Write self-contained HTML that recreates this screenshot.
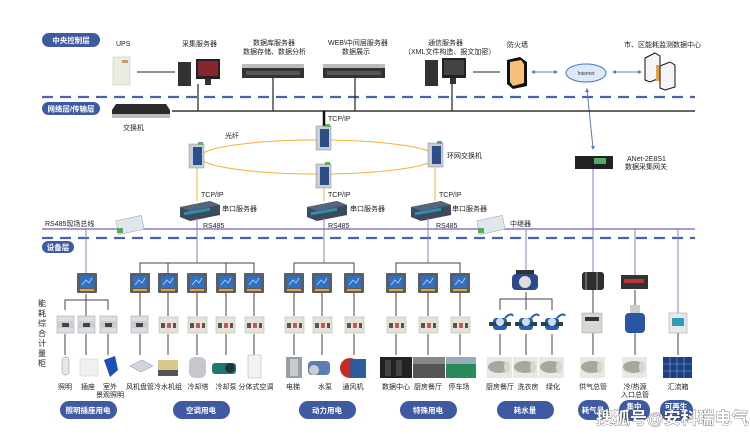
<!DOCTYPE html>
<html><head><meta charset="utf-8"><style>
html,body{margin:0;padding:0;background:#fff;}
svg{display:block;font-family:"Liberation Sans","Noto Sans CJK SC",sans-serif;}
.t{font-size:7px;fill:#222;}
.p{font-size:7.5px;fill:#fff;font-weight:bold;}
</style></head><body>
<svg width="750" height="434" viewBox="0 0 750 434" xmlns="http://www.w3.org/2000/svg">
<defs>
<g id="meter"><rect x="0" y="0" width="20" height="20" fill="#5a5f66" rx="1"/><rect x="3" y="3" width="14" height="12" fill="#2f6fc4"/><path d="M5 12 L9 7 L12 10 L15 5" stroke="#bde" fill="none" stroke-width="0.8"/><rect x="3" y="16" width="14" height="2" fill="#e8a040"/></g>
<g id="brk"><rect x="0" y="0" width="17" height="17" fill="#dcdfe2" stroke="#999" stroke-width="0.5"/><rect x="0" y="5" width="17" height="7" fill="#c9cdd1"/><rect x="5" y="7" width="7" height="4" fill="#444"/></g>
<g id="brk2"><rect x="0" y="0" width="19" height="16" fill="#e6e2da" stroke="#aaa" stroke-width="0.5"/><rect x="2" y="6" width="4" height="5" fill="#555"/><rect x="8" y="6" width="4" height="5" fill="#c55"/><rect x="14" y="6" width="3" height="5" fill="#555"/></g>
<g id="pipe"><rect x="0" y="0" width="25" height="21" fill="#e8e8e6"/><ellipse cx="12" cy="10" rx="11" ry="6" fill="#aaa69c"/><ellipse cx="20" cy="10" rx="3" ry="6" fill="#d8d5cc"/></g>
<g id="wm"><rect x="4" y="6" width="14" height="12" rx="3" fill="#2d5fb0"/><rect x="0" y="10" width="22" height="4" fill="#245"/><circle cx="11" cy="10" r="4" fill="#cde"/><path d="M16 6 Q22 0 24 4" stroke="#2d5fb0" fill="none" stroke-width="2"/></g>
<g id="rsw"><rect x="0" y="0" width="15" height="24" fill="#c7cdd3" stroke="#889" stroke-width="0.5"/><rect x="4" y="3" width="9" height="18" fill="#2a4f8a"/><rect x="9" y="-2" width="5" height="3" fill="#6a6"/></g>
<g id="ser"><path d="M0 6 L30 0 L40 4 L40 14 L10 20 L0 16 Z" fill="#3c4b5c"/><path d="M0 6 L30 0 L40 4 L10 10Z" fill="#56657a"/><rect x="4" y="12" width="26" height="3" fill="#2c8fb0" transform="skewY(-10)"/></g>
</defs>

<!-- pills -->
<g>
<rect x="42" y="33" width="58" height="14" rx="7" fill="#3f5aa0"/><text class="p" x="71" y="43" text-anchor="middle">中央控制层</text>
<rect x="42" y="102" width="58" height="13" rx="6.5" fill="#3f5aa0"/><text class="p" x="71" y="111.5" text-anchor="middle">网络层/传输层</text>
<rect x="42" y="241" width="32" height="12" rx="6" fill="#3f5aa0"/><text class="p" x="58" y="250" text-anchor="middle">设备层</text>
</g>

<!-- dashed lines -->
<line x1="42" y1="97" x2="695" y2="97" stroke="#4b63a8" stroke-width="2.2" stroke-dasharray="11,7"/>
<line x1="42" y1="238" x2="695" y2="238" stroke="#4b63a8" stroke-width="2.2" stroke-dasharray="11,7"/>

<!-- top labels -->
<text class="t" x="116" y="46">UPS</text>
<text class="t" x="182" y="46">采集服务器</text>
<text class="t" x="253" y="45">数据库服务器</text>
<text class="t" x="243" y="54">数据存储、数据分析</text>
<text class="t" x="328" y="45">WEB\中间层服务器</text>
<text class="t" x="342" y="54">数据展示</text>
<text class="t" x="428" y="45">通信服务器</text>
<text class="t" x="404" y="54">（XML文件构造、报文加密）</text>
<text class="t" x="507" y="47">防火墙</text>
<text class="t" x="624" y="47">市、区能耗监测数据中心</text>

<!-- top icons -->
<rect x="113" y="57" width="17" height="28" fill="#ecebe2" stroke="#bbb" stroke-width="0.5"/><rect x="122" y="60" width="6" height="3" fill="#c96"/>
<line x1="137" y1="72" x2="175" y2="72" stroke="#222" stroke-width="1"/>
<rect x="178" y="62" width="13" height="24" fill="#333"/><rect x="196" y="59" width="24" height="20" fill="#222"/><rect x="198" y="61" width="20" height="15" fill="#8a2530"/><rect x="205" y="79" width="6" height="6" fill="#333"/>
<g transform="translate(242,64)"><rect width="62" height="14" fill="#333"/><rect y="0" width="62" height="4" fill="#bbb"/><rect x="4" y="7" width="54" height="4" fill="#555"/></g>
<g transform="translate(323,64)"><rect width="62" height="14" fill="#333"/><rect y="0" width="62" height="4" fill="#bbb"/><rect x="4" y="7" width="54" height="4" fill="#555"/></g>
<rect x="425" y="60" width="13" height="26" fill="#333"/><rect x="442" y="58" width="24" height="20" fill="#222"/><rect x="444" y="60" width="20" height="15" fill="#444"/><rect x="450" y="78" width="6" height="6" fill="#333"/>
<line x1="473" y1="72" x2="500" y2="72" stroke="#222" stroke-width="1"/>
<path d="M507 60 L520 57 L527 62 L527 86 L513 89 L507 84Z" fill="#111"/><path d="M510 62 L521 60 L524 64 L524 83 L513 86 L510 82Z" fill="#f6c07a"/>
<line x1="533" y1="72" x2="556" y2="72" stroke="#5a78c8" stroke-width="1"/><path d="M531 72 l4 -2 v4z M558 72 l-4 -2 v4z" fill="#5a78c8"/>
<ellipse cx="586" cy="73" rx="20" ry="9" fill="#dbe9f8" stroke="#4b7bc0"/><text x="586" y="75" font-size="5" text-anchor="middle" fill="#333">Internet</text>
<line x1="614" y1="72" x2="640" y2="72" stroke="#5a78c8" stroke-width="1"/><path d="M612 72 l4 -2 v4z M642 72 l-4 -2 v4z" fill="#5a78c8"/>
<path d="M645 58 L655 53 L660 56 L660 78 L650 82 L645 80Z" fill="#f4f4f4" stroke="#111"/><rect x="656" y="65" width="8" height="16" fill="#e5a040"/><path d="M660 66 L670 62 L675 65 L675 87 L665 90 L660 88Z" fill="#f4f4f4" stroke="#111"/>
<line x1="587" y1="90" x2="593" y2="148" stroke="#5a78c8" stroke-width="1"/><path d="M587 88 l-2 4 h4z M593 150 l-2 -4 h4z" fill="#5a78c8"/>

<!-- vertical links to bus -->
<g stroke="#222" stroke-width="1.2">
<line x1="198" y1="84" x2="198" y2="111"/><line x1="273" y1="78" x2="273" y2="111"/><line x1="355" y1="78" x2="355" y2="111"/><line x1="452" y1="84" x2="452" y2="111"/>
</g>
<line x1="172" y1="111" x2="695" y2="111" stroke="#333" stroke-width="1.5"/>
<line x1="324" y1="111" x2="324" y2="126" stroke="#111" stroke-width="2.5"/>
<text class="t" x="328" y="121">TCP/IP</text>

<!-- switch -->
<path d="M116 104 L166 104 L170 110 L170 118 L112 118 L112 110Z" fill="#2a2a2a"/><rect x="112" y="114" width="58" height="4" fill="#bbb"/>
<text class="t" x="123" y="130">交换机</text>

<!-- ring -->
<ellipse cx="318" cy="157" rx="118" ry="17" fill="none" stroke="#f3b23a" stroke-width="1"/>
<text class="t" x="225" y="138">光纤</text>
<use href="#rsw" x="189" y="144"/><use href="#rsw" x="316" y="126"/><use href="#rsw" x="316" y="164"/><use href="#rsw" x="428" y="143"/>
<text class="t" x="447" y="158">环网交换机</text>
<g stroke="#f3b23a" stroke-width="1"><line x1="197" y1="168" x2="197" y2="201"/><line x1="324" y1="188" x2="324" y2="201"/><line x1="435" y1="167" x2="435" y2="201"/></g>
<text class="t" x="201" y="197">TCP/IP</text><text class="t" x="328" y="197">TCP/IP</text><text class="t" x="439" y="197">TCP/IP</text>
<use href="#ser" x="180" y="201"/><use href="#ser" x="307" y="201"/><use href="#ser" x="411" y="201"/>
<text class="t" x="222" y="211">串口服务器</text><text class="t" x="350" y="211">串口服务器</text><text class="t" x="452" y="211">串口服务器</text>
<text class="t" x="203" y="228">RS485</text><text class="t" x="328" y="228">RS485</text><text class="t" x="436" y="228">RS485</text>

<!-- gateway -->
<rect x="575" y="156" width="38" height="13" fill="#222"/><rect x="594" y="158" width="12" height="6" fill="#5a6"/>
<text class="t" x="627" y="161">ANet-2E8S1</text><text class="t" x="625" y="169">数据采集网关</text>

<!-- purple bus -->
<line x1="42" y1="229" x2="695" y2="229" stroke="#8a7cc4" stroke-width="1.5"/>
<text class="t" x="45" y="226">RS485现场总线</text>
<g stroke="#8a7cc4" stroke-width="1">
<line x1="86" y1="229" x2="86" y2="273"/><line x1="197" y1="218" x2="197" y2="263"/><line x1="324" y1="218" x2="324" y2="263"/><line x1="428" y1="218" x2="428" y2="263"/>
<line x1="526" y1="229" x2="526" y2="270"/><line x1="593" y1="169" x2="593" y2="272"/><line x1="635" y1="229" x2="635" y2="275"/><line x1="678" y1="229" x2="678" y2="314"/>
</g>
<g><rect x="117" y="218" width="26" height="14" fill="#dfe6ec" stroke="#999" stroke-width="0.5" transform="rotate(-12 130 225)"/><rect x="117" y="228" width="6" height="5" fill="#5a5"/></g>
<g><rect x="478" y="218" width="26" height="14" fill="#dfe6ec" stroke="#999" stroke-width="0.5" transform="rotate(-12 491 225)"/><rect x="478" y="228" width="6" height="5" fill="#5a5"/></g>
<text class="t" x="510" y="226">中继器</text>

<!-- vertical cabinet text -->
<g font-size="8" fill="#222"><text x="38" y="306">能</text><text x="38" y="316">耗</text><text x="38" y="326">综</text><text x="38" y="336">合</text><text x="38" y="346">计</text><text x="38" y="356">量</text><text x="38" y="366">柜</text></g>

<!-- tree lines -->
<g stroke="#444" stroke-width="1" fill="none">
<path d="M65 310 V300 H108 V310 M86 294 V316"/>
<path d="M140 273 V263 H254 V273 M168 263 V273 M226 263 V273"/>
<path d="M294 273 V263 H354 V273"/>
<path d="M396 273 V263 H460 V273"/>
<path d="M500 310 V299 H552 V310 M526 292 V310"/>
<!-- meter to breaker & breaker to device -->
<path d="M65 334 V355 M86 334 V355 M108 334 V355"/>
<path d="M140 293 V316 M168 293 V316 M197 293 V316 M226 293 V316 M254 293 V316 M140 334 V355 M168 334 V355 M197 334 V355 M226 334 V355 M254 334 V355"/>
<path d="M294 293 V316 M322 293 V316 M354 293 V316 M294 334 V355 M322 334 V355 M354 334 V355"/>
<path d="M396 293 V316 M428 293 V316 M460 293 V316 M396 334 V355 M428 334 V355 M460 334 V355"/>
<path d="M500 334 V355 M526 334 V355 M552 334 V355"/>
<path d="M593 290 V313 M593 333 V355 M635 290 V305 M635 333 V355 M678 333 V355"/>
</g>

<!-- meters -->
<use href="#meter" x="77" y="273"/>
<use href="#meter" x="130" y="273"/><use href="#meter" x="158" y="273"/><use href="#meter" x="187" y="273"/><use href="#meter" x="216" y="273"/><use href="#meter" x="244" y="273"/>
<use href="#meter" x="284" y="273"/><use href="#meter" x="312" y="273"/><use href="#meter" x="344" y="273"/>
<use href="#meter" x="386" y="273"/><use href="#meter" x="418" y="273"/><use href="#meter" x="450" y="273"/>
<!-- breakers -->
<use href="#brk" x="57" y="316"/><use href="#brk" x="78" y="316"/><use href="#brk" x="100" y="316"/><use href="#brk" x="131" y="316"/>
<use href="#brk2" x="159" y="317"/><use href="#brk2" x="188" y="317"/><use href="#brk2" x="216" y="317"/><use href="#brk2" x="245" y="317"/>
<use href="#brk2" x="285" y="317"/><use href="#brk2" x="313" y="317"/><use href="#brk2" x="345" y="317"/>
<use href="#brk2" x="387" y="317"/><use href="#brk2" x="419" y="317"/><use href="#brk2" x="451" y="317"/>

<!-- water -->
<g transform="translate(512,270)"><rect x="0" y="4" width="26" height="16" rx="4" fill="#2a4a8a"/><circle cx="13" cy="12" r="6" fill="#ddd"/><rect x="4" y="0" width="18" height="4" fill="#333"/></g>
<use href="#wm" x="489" y="312"/><use href="#wm" x="515" y="312"/><use href="#wm" x="541" y="312"/>
<!-- gas/heat -->
<rect x="582" y="272" width="22" height="18" rx="3" fill="#2e2e2e"/><rect x="585" y="272" width="2" height="18" fill="#666"/><rect x="596" y="272" width="2" height="18" fill="#666"/>
<rect x="582" y="313" width="20" height="20" fill="#d8d8d2" stroke="#999" stroke-width="0.5"/><rect x="585" y="317" width="14" height="4" fill="#333"/>
<rect x="621" y="275" width="27" height="14" fill="#333"/><rect x="624" y="279" width="20" height="4" fill="#b33"/>
<rect x="630" y="305" width="10" height="8" fill="#ccc"/><rect x="625" y="313" width="20" height="20" rx="4" fill="#2a55a5"/>
<rect x="669" y="313" width="18" height="20" fill="#e6e9ec" stroke="#999" stroke-width="0.5"/><rect x="672" y="318" width="12" height="8" fill="#39b"/>

<!-- devices row -->
<rect x="62" y="357" width="7" height="18" rx="3" fill="#e9e7e0" stroke="#888" stroke-width="0.5"/>
<rect x="80" y="359" width="18" height="17" fill="#f0f0ee" stroke="#ccc" stroke-width="0.5"/>
<path d="M104 360 L115 356 L118 370 L110 377 Z" fill="#1f4fb5"/>
<path d="M130 366 L142 360 L153 366 L141 372Z" fill="#cfd6de" stroke="#889" stroke-width="0.5"/>
<rect x="158" y="360" width="20" height="16" fill="#d6c98a"/><rect x="158" y="370" width="20" height="6" fill="#555"/>
<rect x="189" y="357" width="17" height="21" rx="6" fill="#c4c8cc"/>
<rect x="212" y="363" width="24" height="11" rx="3" fill="#1d7a70"/><circle cx="230" cy="368" r="5" fill="#234"/>
<rect x="248" y="355" width="13" height="23" fill="#f2f2f2" stroke="#aaa" stroke-width="0.5"/>
<rect x="286" y="357" width="16" height="21" fill="#9a9ea3"/><rect x="290" y="359" width="8" height="17" fill="#c8ccd0"/>
<rect x="308" y="361" width="22" height="14" rx="4" fill="#5a7fb5"/><circle cx="314" cy="370" r="5" fill="#ccc"/>
<circle cx="350" cy="368" r="10" fill="#c52b25"/><rect x="350" y="359" width="16" height="19" fill="#2e5a9e"/>
<rect x="380" y="357" width="32" height="21" fill="#222"/><rect x="385" y="360" width="6" height="16" fill="#444"/><rect x="396" y="360" width="6" height="16" fill="#444"/>
<rect x="413" y="357" width="32" height="21" fill="#555"/><rect x="413" y="357" width="32" height="7" fill="#888"/>
<rect x="446" y="357" width="30" height="21" fill="#2a8a5a"/><rect x="446" y="357" width="30" height="7" fill="#9ab"/>
<use href="#pipe" x="487" y="357"/><use href="#pipe" x="513" y="357"/><use href="#pipe" x="539" y="357"/>
<use href="#pipe" x="580" y="357"/><use href="#pipe" x="622" y="357"/>
<g transform="translate(663,357)"><rect width="29" height="21" fill="#1d3f8a"/><path d="M0 7H29M0 14H29M7 0V21M14 0V21M21 0V21" stroke="#8ab" stroke-width="0.6"/></g>

<!-- device labels -->
<g class="t">
<text class="t" x="65" y="389" text-anchor="middle">照明</text><text class="t" x="88" y="389" text-anchor="middle">插座</text><text class="t" x="110" y="389" text-anchor="middle">室外</text><text class="t" x="110" y="397" text-anchor="middle">景观照明</text>
<text class="t" x="140" y="389" text-anchor="middle">风机盘管</text><text class="t" x="168" y="389" text-anchor="middle">冷水机组</text><text class="t" x="198" y="389" text-anchor="middle">冷却塔</text><text class="t" x="226" y="389" text-anchor="middle">冷却泵</text><text class="t" x="256" y="389" text-anchor="middle">分体式空调</text>
<text class="t" x="293" y="389" text-anchor="middle">电梯</text><text class="t" x="325" y="389" text-anchor="middle">水泵</text><text class="t" x="353" y="389" text-anchor="middle">通风机</text>
<text class="t" x="396" y="389" text-anchor="middle">数据中心</text><text class="t" x="428" y="389" text-anchor="middle">厨房餐厅</text><text class="t" x="459" y="389" text-anchor="middle">停车场</text>
<text class="t" x="500" y="389" text-anchor="middle">厨房餐厅</text><text class="t" x="528" y="389" text-anchor="middle">洗衣房</text><text class="t" x="553" y="389" text-anchor="middle">绿化</text>
<text class="t" x="593" y="389" text-anchor="middle">供气总管</text><text class="t" x="635" y="389" text-anchor="middle">冷/热源</text><text class="t" x="635" y="397" text-anchor="middle">入口总管</text><text class="t" x="678" y="389" text-anchor="middle">汇流箱</text>
</g>

<!-- bottom pills -->
<g>
<rect x="60" y="401" width="57" height="18" rx="9" fill="#3f5aa0"/><text class="p" x="88" y="413" text-anchor="middle">照明插座用电</text>
<rect x="173" y="401" width="57" height="18" rx="9" fill="#3f5aa0"/><text class="p" x="201" y="413" text-anchor="middle">空调用电</text>
<rect x="299" y="401" width="57" height="18" rx="9" fill="#3f5aa0"/><text class="p" x="327" y="413" text-anchor="middle">动力用电</text>
<rect x="400" y="401" width="57" height="18" rx="9" fill="#3f5aa0"/><text class="p" x="428" y="413" text-anchor="middle">特殊用电</text>
<rect x="497" y="401" width="57" height="18" rx="9" fill="#3f5aa0"/><text class="p" x="525" y="413" text-anchor="middle">耗水量</text>
<rect x="578" y="400" width="31" height="20" rx="10" fill="#3f5aa0"/><text class="p" x="593" y="413" text-anchor="middle">耗气量</text>
<rect x="619" y="400" width="31" height="21" rx="10" fill="#3f5aa0"/><text class="p" x="634" y="409" text-anchor="middle">集中</text>
<rect x="660" y="400" width="33" height="21" rx="10" fill="#3f5aa0"/><text class="p" x="676" y="409" text-anchor="middle">可再生</text>
</g>

<!-- watermark -->
<text x="596" y="424" font-size="17" font-weight="bold" fill="#fff" stroke="#333" stroke-width="0.6" paint-order="stroke">搜狐号@安科瑞电气</text>
</svg>
</body></html>
